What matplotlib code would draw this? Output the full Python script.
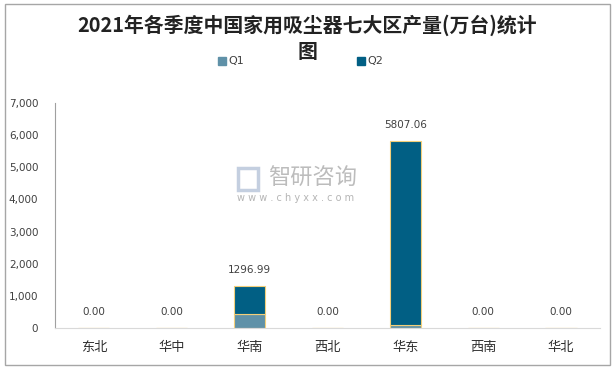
import matplotlib
matplotlib.use("Agg")
import matplotlib.pyplot as plt
from matplotlib.patches import Rectangle
import numpy as np

plt.rcParams['font.family'] = ['Noto Sans CJK SC', 'DejaVu Sans']

categories = ["东北", "华中", "华南", "西北", "华东", "西南", "华北"]
q1 = [0, 0, 450.0, 0, 85.0, 0, 0]
q2 = [0, 0, 846.99, 0, 5722.06, 0, 0]
totals = [0.00, 0.00, 1296.99, 0.00, 5807.06, 0.00, 0.00]
series_names = ["Q1", "Q2"]
yticks = [0, 1000, 2000, 3000, 4000, 5000, 6000, 7000]
title_line1 = "2021年各季度中国家用吸尘器七大区产量(万台)统计"
title_line2 = "图"

c_q1 = "#5f91a8"
c_q2 = "#015f84"
edge = "#f3cf7a"

fig = plt.figure(figsize=(6.15, 3.69), dpi=100)
W, H = 615, 369
ax = fig.add_axes([55 / W, 1 - 328 / H, (600 - 55) / W, (328 - 103) / H])

x = np.arange(len(categories))
ax.bar(x, q1, width=0.4, color=c_q1, edgecolor=edge, linewidth=0.8, label=series_names[0])
ax.bar(x, q2, width=0.4, bottom=q1, color=c_q2, edgecolor=edge, linewidth=0.8, label=series_names[1])

for xi, t in zip(x, totals):
    ax.annotate(f"{t:.2f}", (xi, t), xytext=(0, 8), textcoords="offset points",
                ha="center", va="bottom", fontsize=7.5, color="#404040",
                family=['DejaVu Sans'])

ax.set_xlim(-0.5, len(categories) - 0.5)
ax.set_ylim(0, 7000)
ax.set_yticks(yticks)
ax.set_yticklabels([f"{v:,}" for v in yticks], fontsize=7.5, color="#404040",
                   family=['DejaVu Sans'])
ax.set_xticks(x)
ax.set_xticklabels(categories, fontsize=9.5, color="#303030")
ax.tick_params(axis='both', length=0)
ax.tick_params(axis='y', pad=12)
ax.tick_params(axis='x', pad=9)
for s in ["top", "right"]:
    ax.spines[s].set_visible(False)
ax.spines["left"].set_color("#a0a0a0")
ax.spines["bottom"].set_color("#d9d9d9")
ax.spines["left"].set_linewidth(0.8)
ax.spines["bottom"].set_linewidth(0.8)

fig.text(0.5, 1 - 25 / H, title_line1, ha="center", va="center", fontsize=14.3,
         fontweight="bold", color="#222222")
fig.text(0.5, 1 - 52 / H, title_line2, ha="center", va="center", fontsize=14.3,
         fontweight="bold", color="#222222")

# legend
for name, col, px in [(series_names[0], c_q1, 218), (series_names[1], c_q2, 357)]:
    fig.patches.append(Rectangle((px / W, 1 - 65 / H), 8 / W, 8 / H,
                                 transform=fig.transFigure, color=col))
    fig.text((px + 10) / W, 1 - 61 / H, name, ha="left", va="center",
             fontsize=8, color="#404040", family=['DejaVu Sans'])

# watermark
fig.text(268 / W, 1 - 178 / H, "智研咨询", ha="left", va="center", fontsize=16,
         color="#b5b5b5", alpha=0.9)
fig.text(237 / W, 1 - 198 / H, "w w w . c h y x x . c o m", ha="left", va="center",
         fontsize=7, color="#b5b5b5", family=['DejaVu Sans'])
fig.patches.append(Rectangle((238 / W, 1 - 190 / H), 20 / W, 22 / H,
                             transform=fig.transFigure, facecolor="none",
                             edgecolor="#c4cfe0", linewidth=2.5))

# outer frame
fig.patches.append(Rectangle((5 / W, 4 / H), 605 / W, 361 / H, transform=fig.transFigure,
                             facecolor="none", edgecolor="#a6a6a6", linewidth=1.0))

fig.savefig("out.png", dpi=100)
